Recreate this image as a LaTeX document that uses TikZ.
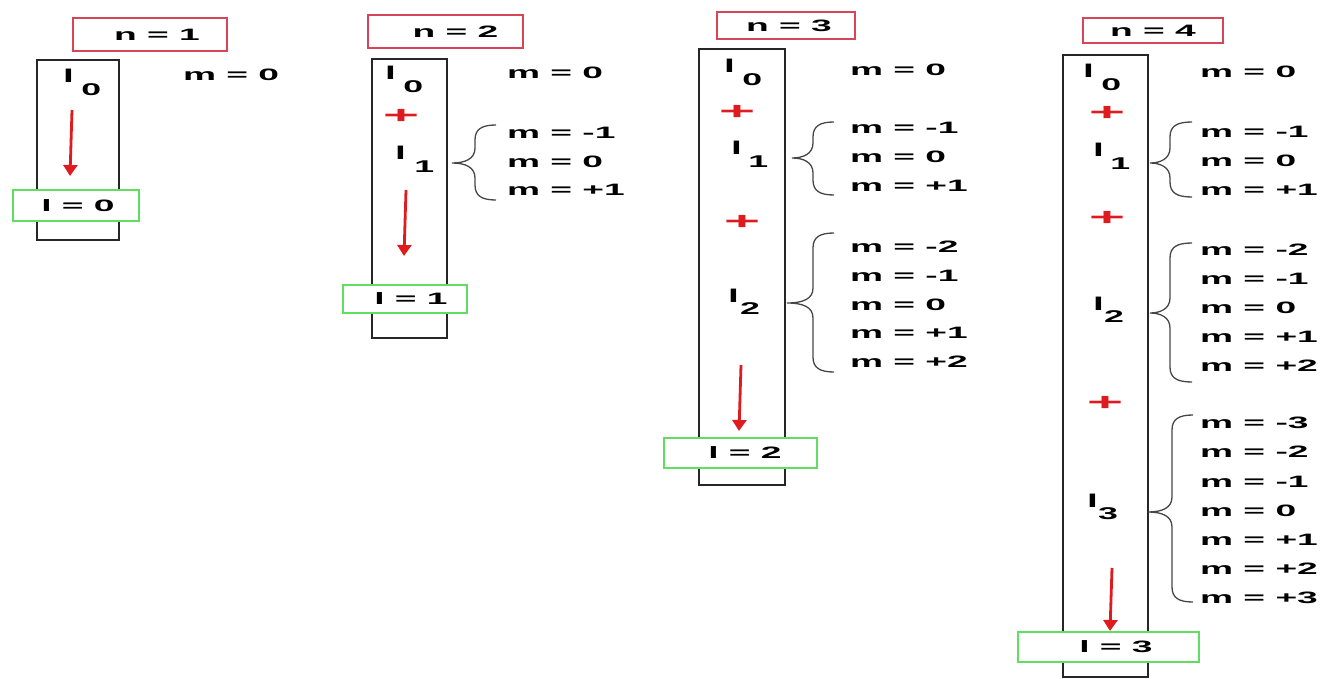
\documentclass[tikz,border=0pt]{standalone}
\usepackage{fontspec}
\setmainfont{Liberation Sans}
\usetikzlibrary{arrows.meta}

\definecolor{boxred}{RGB}{214,70,88}
\definecolor{boxgreen}{RGB}{96,222,96}
\definecolor{dropred}{RGB}{222,28,32}
\definecolor{bracegray}{RGB}{70,70,70}

% wide lettering
\newcommand\wt[1]{\scalebox{2.25}[1]{#1}}
% orbital label l with its index set low: \orbl[gap]{index}
\newcommand\orbl[2][3.5pt]{\scalebox{2.1}[1]{\fontsize{18.5}{20}\selectfont l\hspace{#1}\raisebox{-12.5pt}{\fontsize{17}{18}\selectfont #2}}}
% curly brace: tip x, stem x, end x, top y, tip y, bottom y
\newcommand\subbrace[6]{%
  \draw[brace] ({#3},{#4}) .. controls ({#2+7},{#4}) and ({#2},{#4+4}) .. ({#2},{#4+15})
    -- ({#2},{#5-15}) .. controls ({#2},{#5-4}) and ({#2-10},{#5}) .. ({#1},{#5})
    .. controls ({#2-10},{#5}) and ({#2},{#5+4}) .. ({#2},{#5+15})
    -- ({#2},{#6-15}) .. controls ({#2},{#6-4}) and ({#2+7},{#6}) .. ({#3},{#6});}

\tikzset{
  every node/.style={font=\fontsize{16.5}{18}\selectfont\bfseries, inner sep=0pt},
  shell/.style={draw=black!85, line width=1.8pt, rectangle},
  nbox/.style={draw=boxred, line width=1.6pt, fill=white, rectangle},
  lbox/.style={draw=boxgreen, line width=1.6pt, fill=white, rectangle},
  mval/.style={anchor=west},
  orb/.style={anchor=base west},
  plus/.style={text=dropred, font=\fontsize{24}{24}\selectfont\bfseries},
  drop/.style={draw=dropred, line width=2.8pt, -{Triangle[width=14pt,length=11pt]}},
  brace/.style={draw=bracegray, line width=1.3pt},
}
\newcommand\pl{\scalebox{2.6}[1]{+}}

\begin{document}
\begin{tikzpicture}[x=1pt, y=-1pt]
\useasboundingbox (0,0) rectangle (1326,679);

%% ---------- n = 1 ----------
\node[nbox, minimum width=154pt, minimum height=33pt] (n1) at (150,34.5) {\hspace*{14pt}\wt{n = 1}};
\node[shell, minimum width=82pt, minimum height=180pt] (s1) at (78,150) {};
\node[orb] (s1l0) at (63,83) {\orbl{0}};
\node[mval] (s1m0) at (183,75) {\wt{m = 0}};
\coordinate (s1a) at (72,110);
\coordinate (s1b) at (70,176);
\draw[drop] (s1a) -- (s1b);
\node[lbox, minimum width=126pt, minimum height=31pt] (l1) at (76,205.5) {\hspace*{4pt}\wt{l = 0}};

%% ---------- n = 2 ----------
\node[nbox, minimum width=155pt, minimum height=33pt] (n2) at (445.5,31.5) {\hspace*{20pt}\wt{n = 2}};
\node[shell, minimum width=75pt, minimum height=279pt] (s2) at (409.5,198.5) {};
\node[orb] (s2l0) at (385,80) {\orbl{0}};
\node[mval] (s2m0) at (507,73) {\wt{m = 0}};
\node[plus] (s2p1) at (401,116) {\pl};
\node[orb] (s2l1) at (395,160) {\orbl[4pt]{1}};
\subbrace{452}{475}{496}{125}{163}{200}
\foreach \v [count=\i from 0] in {-1,0,+1}
  \node[mval] (s2m1-\i) at (507,{133+28.5*\i}) {\wt{m = \v}};
\coordinate (s2a) at (406,190);
\coordinate (s2b) at (404,256);
\draw[drop] (s2a) -- (s2b);
\node[lbox, minimum width=124pt, minimum height=28pt] (l2) at (405,299) {\hspace*{12pt}\wt{l = 1}};

%% ---------- n = 3 ----------
\node[nbox, minimum width=138pt, minimum height=27pt] (n3) at (786,25.5) {\hspace*{6pt}\wt{n = 3}};
\node[shell, minimum width=86pt, minimum height=436pt] (s3) at (742,267) {};
\node[orb] (s3l0) at (724,73) {\orbl{0}};
\node[mval] (s3m0) at (850,70) {\wt{m = 0}};
\node[plus] (s3p1) at (737,112) {\pl};
\node[orb] (s3l1) at (731,155) {\orbl[3pt]{1}};
\subbrace{792}{813}{834}{122}{158}{195}
\foreach \v [count=\i from 0] in {-1,0,+1}
  \node[mval] (s3m1-\i) at (850,{128+29*\i}) {\wt{m = \v}};
\node[plus] (s3p2) at (742,222) {\pl};
\node[orb] (s3l2) at (728,302) {\orbl[0.5pt]{2}};
\subbrace{787}{813}{834}{233}{303}{372}
\foreach \v [count=\i from 0] in {-2,-1,0,+1,+2}
  \node[mval] (s3m2-\i) at (850,{247+28.75*\i}) {\wt{m = \v}};
\coordinate (s3a) at (741,365);
\coordinate (s3b) at (739,431);
\draw[drop] (s3a) -- (s3b);
\node[lbox, minimum width=153pt, minimum height=30pt] (l3) at (740.5,453) {\hspace*{9pt}\wt{l = 2}};

%% ---------- n = 4 ----------
\node[nbox, minimum width=140pt, minimum height=25pt] (n4) at (1153,30.5) {\wt{n = 4}};
\node[shell, minimum width=85pt, minimum height=622pt] (s4) at (1105.5,366) {};
\node[orb] (s4l0) at (1083,78) {\orbl{0}};
\node[mval] (s4m0) at (1200,72) {\wt{m = 0}};
\node[plus] (s4p1) at (1107,113) {\pl};
\node[orb] (s4l1) at (1093,157) {\orbl[3pt]{1}};
\subbrace{1150}{1170}{1192}{122}{163}{197}
\foreach \v [count=\i from 0] in {-1,0,+1}
  \node[mval] (s4m1-\i) at (1200,{132+29*\i}) {\wt{m = \v}};
\node[plus] (s4p2) at (1107,218) {\pl};
\node[orb] (s4l2) at (1093,310) {\orbl[0pt]{2}};
\subbrace{1150}{1170}{1192}{243}{313}{382}
\foreach \v [count=\i from 0] in {-2,-1,0,+1,+2}
  \node[mval] (s4m2-\i) at (1200,{250+29*\i}) {\wt{m = \v}};
\node[plus] (s4p3) at (1105,403) {\pl};
\node[orb] (s4l3) at (1087,507) {\orbl[0pt]{3}};
\subbrace{1148}{1172}{1193}{415}{512}{602}
\foreach \v [count=\i from 0] in {-3,-2,-1,0,+1,+2,+3}
  \node[mval] (s4m3-\i) at (1200,{423+29.2*\i}) {\wt{m = \v}};
\coordinate (s4a) at (1112,568);
\coordinate (s4b) at (1110,631);
\draw[drop] (s4a) -- (s4b);
\node[lbox, minimum width=181pt, minimum height=30pt] (l4) at (1108.5,647) {\hspace*{15pt}\wt{l = 3}};
\end{tikzpicture}
\end{document}
